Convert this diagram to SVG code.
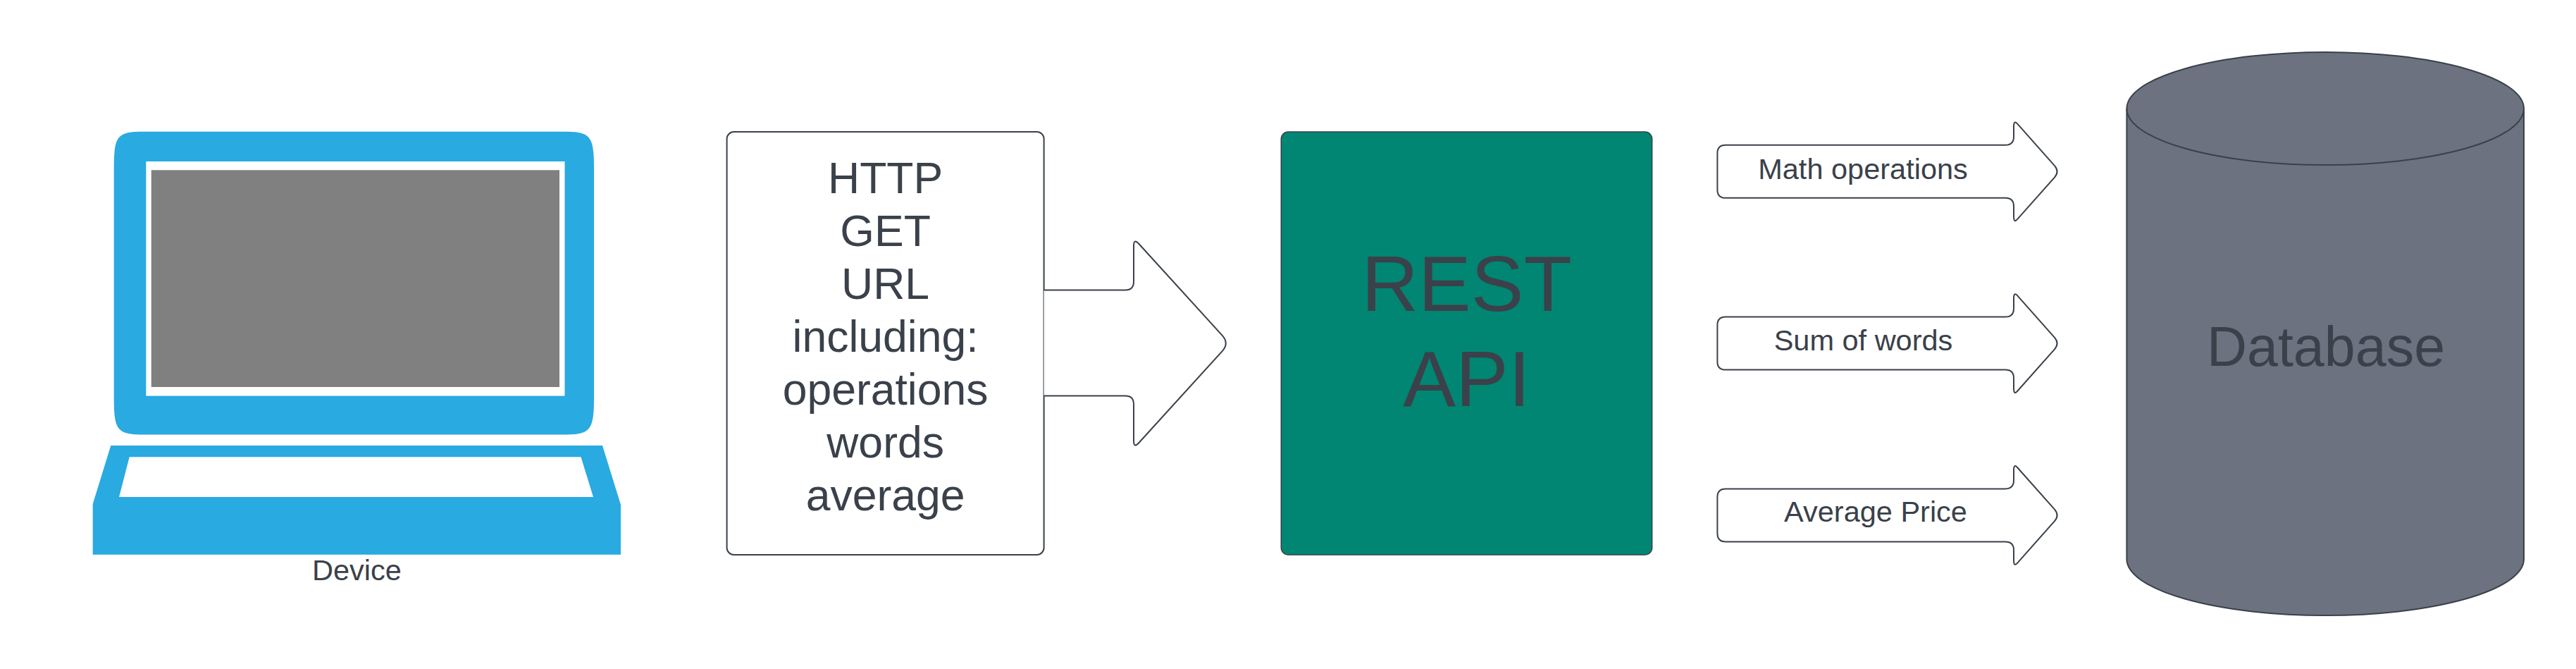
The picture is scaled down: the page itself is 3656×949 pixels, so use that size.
<svg xmlns="http://www.w3.org/2000/svg" width="3656" height="949" viewBox="0 0 3656 949">
<style>
text{font-family:"Liberation Sans",Arial,sans-serif;fill:#3a414a;text-anchor:middle}
.o{fill:#fff;stroke:#3a414a;stroke-width:2;stroke-linejoin:round}
.blue{fill:#29aae1}
.s{font-size:41.5px}
.m{font-size:62.5px}
</style>
<rect width="3656" height="949" fill="#fff"/>
<g id="device">
<path class="blue" d="M161.7 240C161.7 195 165 187 200 186.7H805C839 187 843 195 843 240V563C843 608 839 616 805 616.5H200C165 616 161.7 608 161.7 563Z"/>
<rect x="207.3" y="229" width="594.2" height="332.6" fill="#fff"/>
<rect x="214.7" y="241.3" width="579.3" height="307.7" fill="#808080"/>
<path class="blue" d="M157.3 632H855L881 716V786.7H131.7V715Z"/>
<path fill="#fff" d="M183.7 648.3H824.5L842 705H169Z"/>
<text class="s" x="506.5" y="823">Device</text>
</g>
<g id="request">
<rect class="o" x="1031.6" y="187" width="450" height="600" rx="10"/>
<g class="m">
<text x="1256.6" y="274">HTTP</text>
<text x="1256.6" y="349">GET</text>
<text x="1256.6" y="424">URL</text>
<text x="1256.6" y="499">including:</text>
<text x="1256.6" y="574">operations</text>
<text x="1256.6" y="649">words</text>
<text x="1256.6" y="724">average</text>
</g>
</g>
<g id="rest-api">
<rect x="1818.3" y="187" width="526.4" height="600" rx="10" fill="#008672" stroke="#3a414a" stroke-width="1.5"/>
<text x="2081.5" y="441" font-size="112">REST</text>
<text x="2081.5" y="575.5" font-size="112">API</text>
</g>
<g id="database">
<path fill="#6c7280" stroke="#3a414a" stroke-width="2" d="M3018.4 154A281.8 80 0 0 1 3582 154V793A281.8 80 0 0 1 3018.4 793Z"/>
<path fill="none" stroke="#3a414a" stroke-width="2" d="M3018.4 154A281.8 80 0 0 0 3582 154"/>
<text x="3301" y="519" font-size="79">Database</text>
</g>
<g id="connectors">
<g id="arrow-request">
<path class="o" d="M1481.6 411.6H1597Q1609 411.6 1609 399.6V349Q1609 337.9 1616 345.5L1734.7 475.9Q1744.8 487 1734.7 498.1L1616 628.5Q1609 636.1 1609 625V573.6Q1609 561.6 1597 561.6H1481.6"/>
</g>
<g id="arrow-math">
<path class="o" d="M2449 205.8H2846Q2858 205.8 2858 194V180Q2858 169.8 2863 175.4L2915.8 234.8Q2923.3 243.3 2915.8 251.8L2863 311.2Q2858 316.8 2858 306.6V292.6Q2858 280.8 2846 280.8H2449Q2437.4 280.8 2437.4 269.2V217.4Q2437.4 205.8 2449 205.8Z"/>
<text class="s" x="2644" y="253.5">Math operations</text>
</g>
<g id="arrow-sum">
<path class="o" transform="translate(0 243.8)" d="M2449 205.8H2846Q2858 205.8 2858 194V180Q2858 169.8 2863 175.4L2915.8 234.8Q2923.3 243.3 2915.8 251.8L2863 311.2Q2858 316.8 2858 306.6V292.6Q2858 280.8 2846 280.8H2449Q2437.4 280.8 2437.4 269.2V217.4Q2437.4 205.8 2449 205.8Z"/>
<text class="s" x="2644.5" y="496.5">Sum of words</text>
</g>
<g id="arrow-average">
<path class="o" transform="translate(0 487.6)" d="M2449 205.8H2846Q2858 205.8 2858 194V180Q2858 169.8 2863 175.4L2915.8 234.8Q2923.3 243.3 2915.8 251.8L2863 311.2Q2858 316.8 2858 306.6V292.6Q2858 280.8 2846 280.8H2449Q2437.4 280.8 2437.4 269.2V217.4Q2437.4 205.8 2449 205.8Z"/>
<text class="s" x="2662" y="740">Average Price</text>
</g>
</g>
</svg>
